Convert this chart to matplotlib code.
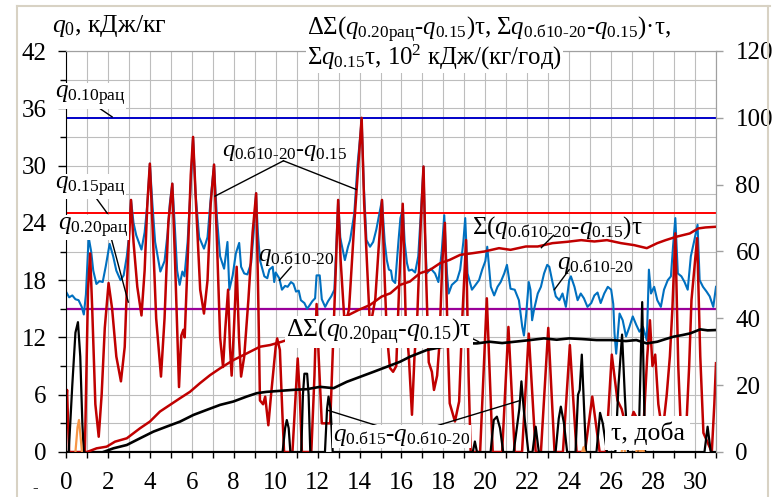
import numpy as np
import matplotlib.pyplot as plt
from matplotlib.lines import Line2D

plt.rcParams['font.family'] = ['Liberation Serif', 'DejaVu Serif']
plt.rcParams['mathtext.fontset'] = 'custom'
plt.rcParams['mathtext.rm'] = 'Liberation Serif'
plt.rcParams['mathtext.it'] = 'Liberation Serif:italic'
plt.rcParams['mathtext.bf'] = 'Liberation Serif:bold'

# rational loads, kJ/kg
q010_rac = 35.0
q015_rac = 25.0
q020_rac = 15.0

# q0.b10-20, kJ/kg
blue_t = [0.0, 0.15, 0.3, 0.45, 0.6, 0.75, 0.85, 0.95, 1.08, 1.2, 1.3, 1.45, 1.6, 1.75, 1.9, 2.08,
          2.25, 2.4, 2.6, 2.75, 2.9, 3.0, 3.1, 3.22, 3.35, 3.6, 3.75, 3.88, 4.0, 4.12, 4.25, 4.5,
          4.7, 4.85, 4.95, 5.07, 5.18, 5.3, 5.42, 5.55, 5.65, 5.8, 5.95, 6.06, 6.18, 6.35, 6.58,
          6.75, 6.9, 7.06, 7.2, 7.35, 7.54, 7.7, 7.79, 7.95, 8.1, 8.26, 8.35, 8.5, 8.65, 8.83,
          8.95, 9.06, 9.15, 9.25, 9.46, 9.6, 9.7, 9.86, 9.93, 10.0, 10.17, 10.3, 10.45, 10.57,
          10.73, 10.85, 10.97, 11.1, 11.2, 11.37, 11.5, 11.6, 11.75, 11.88, 11.95, 12.1, 12.2,
          12.36, 12.5, 12.65, 12.8, 12.9, 12.98, 13.08, 13.13, 13.3, 13.45, 13.55, 13.75, 13.9,
          14.05, 14.1, 14.2, 14.33, 14.5, 14.65, 14.8, 14.95, 15.07, 15.2, 15.3, 15.4, 15.5,
          15.57, 15.7, 15.86, 15.95, 16.07, 16.15, 16.26, 16.35, 16.5, 16.65, 16.8, 16.95, 17.05,
          17.12, 17.2, 17.4, 17.6, 17.76, 17.92, 18.04, 18.17, 18.25, 18.4, 18.65, 18.8, 18.95,
          19.04, 19.15, 19.36, 19.5, 19.7, 19.85, 20.0, 20.09, 20.26, 20.42, 20.58, 20.73, 20.9,
          21.03, 21.2, 21.4, 21.6, 21.76, 21.84, 21.95, 22.07, 22.15, 22.23, 22.32, 22.5, 22.65,
          22.8, 22.95, 23.05, 23.2, 23.36, 23.53, 23.68, 23.84, 24.0, 24.08, 24.25, 24.4, 24.55,
          24.7, 24.87, 25.05, 25.2, 25.35, 25.5, 25.67, 25.84, 26.0, 26.1, 26.16, 26.24, 26.4,
          26.55, 26.71, 26.87, 27.03, 27.2, 27.35, 27.52, 27.7, 27.8, 27.9, 28.05, 28.2, 28.37,
          28.52, 28.7, 28.85, 28.95, 29.06, 29.18, 29.35, 29.5, 29.65, 29.8, 29.95, 30.12, 30.22,
          30.38, 30.55, 30.7, 30.87, 31.0]
blue_q = [16.8, 16.2, 16.4, 16.0, 15.9, 15.2, 14.4, 16.5, 22.5, 21.0, 19.0, 17.6, 17.9, 17.8, 19.5, 21.8,
          20.5, 19.0, 18.0, 18.5, 20.5, 22.5, 26.4, 24.0, 22.7, 21.2, 23.0, 26.0, 30.2, 26.0, 22.0, 18.9,
          20.0, 23.0, 26.0, 28.1, 24.0, 19.0, 17.5, 18.9, 18.4, 22.0, 28.0, 33.0, 27.0, 22.5, 21.3,
          22.5, 26.5, 30.1, 24.5, 20.5, 19.2, 22.0, 17.0, 18.5, 20.8, 21.9, 19.4, 18.7, 18.6, 19.8,
          23.0, 27.1, 23.0, 20.1, 18.4, 18.2, 19.1, 19.4, 17.8, 18.8, 18.2, 17.0, 17.4, 17.3,
          17.8, 17.6, 16.8, 16.9, 15.9, 15.6, 15.0, 15.3, 15.8, 16.1, 18.5, 18.5, 16.0,
          15.2, 15.8, 16.3, 17.0, 22.0, 26.4, 22.5, 21.9, 20.1, 21.5, 22.2, 25.0, 30.0,
          33.5, 35.0, 28.0, 22.2, 21.5, 22.0, 23.3, 25.0, 26.4, 22.0, 20.1, 19.1, 19.0,
          18.0, 17.7, 22.2, 24.5, 25.5, 22.0, 19.8, 19.0, 19.1, 18.8, 20.5, 26.0, 29.9,
          23.0, 18.7, 19.2, 18.7, 17.8, 21.0, 24.8, 18.7, 16.6, 17.5, 18.0, 19.1, 22.0,
          24.5, 18.7, 17.0, 17.4, 18.0, 19.1, 20.0, 21.5, 17.3, 16.4, 17.3, 17.8, 18.7,
          19.6, 17.1, 17.0, 15.9, 13.1, 12.2, 14.5, 17.8, 17.0, 13.8, 14.9, 16.6, 17.3,
          18.7, 19.6, 19.4, 17.8, 16.3, 15.9, 16.6, 15.2, 18.0, 18.4, 17.3, 15.9, 16.6,
          16.1, 15.2, 15.6, 16.4, 16.7, 15.6, 16.6, 17.3, 17.0, 15.5, 12.4, 10.3, 14.5,
          13.8, 12.1, 13.1, 14.2, 13.3, 12.6, 13.1, 11.7, 19.1, 16.6, 17.3, 15.9, 15.2,
          17.0, 18.0, 18.4, 21.5, 24.5, 18.7, 18.4, 17.8, 17.0, 20.5, 22.0, 23.8, 18.0,
          17.3, 16.8, 16.3, 15.2, 17.3]

# q0.b10-20 - q0.15, kJ/kg
red_t = [0.0, 0.05, 0.1, 0.15, 0.9, 0.97, 1.05, 1.15, 1.25, 1.4, 1.56, 1.7, 1.85, 2.03, 2.2, 2.4,
         2.62, 2.8, 2.95, 3.1, 3.22, 3.4, 3.6, 3.75, 3.88, 4.0, 4.12, 4.3, 4.53, 4.7, 4.88, 5.07,
         5.2, 5.39, 5.5, 5.6, 5.66, 5.8, 5.95, 6.06, 6.2, 6.4, 6.58, 6.75, 6.9, 7.06, 7.2, 7.35,
         7.49, 7.6, 7.73, 7.82, 7.9, 8.0, 8.14, 8.25, 8.35, 8.5, 8.7, 8.9, 9.07, 9.17, 9.25, 9.4,
         9.5, 9.65, 9.78, 9.88, 10.0, 10.07, 10.2, 10.32, 10.4, 10.8, 10.95, 11.05, 11.15, 11.25,
         11.7, 11.85, 11.95, 12.05, 12.2, 12.6, 12.75, 12.88, 12.98, 13.1, 13.3, 13.5, 13.75,
         13.95, 14.1, 14.22, 14.5, 14.75, 14.93, 15.07, 15.2, 15.3, 15.45, 15.6, 15.75, 15.9,
         16.06, 16.2, 16.35, 16.5, 16.62, 16.75, 16.92, 17.05, 17.18, 17.3, 17.45, 17.55, 17.7,
         17.8, 17.95, 18.07, 18.2, 18.3, 18.55, 18.75, 18.9, 19.08, 19.2, 19.3, 19.75, 20.07,
         20.35, 20.8, 21.1, 21.4, 21.75, 22.07, 22.4, 22.65, 23.0, 23.3, 23.7, 24.03, 24.35,
         24.75, 25.1, 25.45, 25.75, 26.03, 26.3, 26.5, 26.78, 27.07, 27.26, 27.4, 27.55, 27.72,
         27.85, 27.97, 28.1, 28.25, 28.45, 28.65, 28.8, 28.92, 29.06, 29.2, 29.35, 29.55, 29.72,
         29.83, 30.0, 30.1, 30.25, 30.4, 30.8, 30.92, 31.0]
red_q = [5.0, 6.5, 3.0, 0.0, 0.0, 8.0, 17.0, 20.8, 15.0, 5.0, 1.6, 6.0, 13.0, 17.7, 15.0, 10.0,
         7.4, 11.0, 20.0, 26.4, 22.0, 17.3, 14.3, 19.0, 26.0, 30.2, 24.0, 14.0, 7.9, 14.0, 24.0, 28.1,
         20.0, 6.8, 12.2, 12.8, 12.0, 20.0, 29.0, 33.0, 26.0, 17.0, 14.5, 18.0, 26.0, 30.1, 22.0, 12.0,
         8.9, 13.0, 17.0, 11.0, 8.0, 12.5, 19.4, 12.0, 7.9, 10.0, 16.0, 23.0, 27.1, 16.0, 5.4, 5.0,
         5.8, 2.8, 6.0, 8.3, 11.0, 11.9, 10.7, 4.0, 0.0, 0.0, 6.0, 9.8, 6.0, 0.0,
         0.0, 8.0, 15.5, 10.0, 3.0, 3.0, 12.0, 20.0, 26.4, 20.0, 13.0, 15.0, 24.0,
         30.2, 35.0, 26.0, 13.0, 16.0, 22.0, 26.4, 18.0, 12.4, 8.8, 8.4, 9.0, 18.0,
         26.0, 14.0, 10.0, 3.9, 10.0, 14.0, 24.0, 29.9, 18.0, 9.4, 8.4, 6.5, 8.0,
         11.0, 20.0, 24.0, 12.0, 5.1, 3.2, 5.3, 14.0, 22.2, 8.0, 0.0, 0.0, 16.1,
         0.0, 0.0, 13.1, 0.0, 0.0, 12.4, 0.0, 0.0, 13.0, 0.0, 0.0, 11.2, 0.0,
         0.0, 5.8, 0.0, 0.0, 10.2, 5.4, 4.5, 2.0, 4.2, 3.4, 0.0, 3.0, 10.0,
         13.8, 9.0, 10.2, 5.0, 2.0, 6.0, 10.0, 15.0, 22.9, 9.0, 1.0, 1.0, 9.0,
         15.9, 20.0, 22.4, 10.0, 2.0, 0.0, 5.0, 9.3]

# q0.b15 - q0.b10-20, kJ/kg
blk_t = [0.0, 0.13, 0.3, 0.45, 0.57, 0.68, 0.78, 0.85, 10.33, 10.45, 10.53, 10.62, 10.7, 11.22, 11.3,
         11.37, 11.5, 11.57, 11.65, 12.35, 12.45, 12.52, 12.62, 12.72, 19.4, 19.5, 19.6, 20.25, 20.4,
         20.55, 20.7, 20.85, 21.35, 21.5, 21.62, 21.72, 21.85, 22.05, 22.25, 22.4, 22.55, 23.35, 23.5,
         23.6, 23.75, 23.9, 24.3, 24.42, 24.5, 24.6, 24.7, 24.8, 25.3, 25.47, 25.6, 25.8, 26.2, 26.35,
         26.52, 26.65, 26.8, 27.3, 27.48, 27.62, 30.45, 30.6, 30.75, 31.0]
blk_q = [0.0, 0.0, 7.0, 12.5, 13.6, 10.0, 3.0, 0.0, 0.0, 2.5, 3.35, 2.5, 0.0, 0.0, 6.0,
         8.2, 8.2, 6.0, 0.0, 0.0, 4.5, 5.8, 4.5, 0.0, 0.0, 1.1, 0.0, 0.0, 3.35,
         3.7, 2.5, 0.0, 0.0, 2.5, 4.5, 7.4, 4.0, 0.0, 0.0, 2.65, 0.0, 0.0, 3.5,
         4.75, 3.0, 0.0, 0.0, 6.0, 6.5, 10.2, 5.0, 0.0, 0.0, 4.1, 3.0, 0.0, 0.0, 7.0,
         12.3, 6.0, 0.0, 0.0, 15.7, 0.0, 0.0, 2.65, 0.0, 0.0]

# small orange bursts near zero
org_t = [0.45, 0.55, 0.62, 0.7, 0.76, np.nan, 24.62, 24.68, 24.74, np.nan, 26.5, 26.58, 26.66,
         np.nan, 27.2, 27.28, 27.36, np.nan, 27.44, 27.5, 27.56]
org_q = [0.0, 2.6, 3.35, 1.5, 0.0, np.nan, 0.0, 0.5, 0.0, np.nan, 0.0, 0.9, 0.0,
         np.nan, 0.0, 0.9, 0.0, np.nan, 0.0, 0.9, 0.0]

# cumulative sums, 10^2 kJ/(kg/h)
cum_red_t = [1.0, 1.46, 1.94, 2.34, 2.9, 3.53, 4.0, 4.48, 4.96, 5.44, 5.91, 6.39, 6.87, 7.34, 7.98,
             8.62, 9.25, 9.73, 10.29, 11.0, 12.0, 13.0, 13.95, 14.5, 15.05, 15.47, 15.93, 16.4,
             16.88, 17.36, 17.84, 18.3, 18.8, 19.4, 19.95, 20.65, 21.2, 21.93, 22.5, 23.2, 23.9,
             24.57, 25.2, 25.8, 26.47, 27.1, 27.7, 28.2, 28.6, 29.1, 29.75, 30.15, 30.5, 31.0]
cum_red = [0.0, 1.1, 1.6, 3.1, 4.1, 7.1, 9.1, 12.1, 14.1, 16.1, 18.0, 20.6, 23.0, 25.0, 27.5,
           29.5, 31.5, 32.0, 33.0, 34.5, 37.0, 39.5, 42.5, 44.0, 46.5, 47.5, 50.0, 51.0,
           53.5, 54.5, 56.5, 57.5, 59.0, 59.5, 60.0, 61.0, 60.5, 61.5, 61.5, 62.5, 62.9,
           63.4, 63.0, 63.4, 62.5, 61.9, 61.0, 62.5, 63.4, 64.4, 65.4, 66.9, 67.2, 67.4]

cum_blk_t = [1.78, 2.26, 2.9, 3.53, 4.17, 4.8, 5.44, 6.08, 6.71, 7.35, 7.98, 8.62, 9.1, 9.57, 10.2,
             10.85, 11.48, 12.12, 12.76, 13.39, 14.03, 14.67, 15.3, 15.93, 16.4, 17.2, 17.99, 18.6,
             19.1, 19.6, 20.2, 20.8, 21.4, 22.0, 22.8, 23.4, 24.0, 24.6, 25.3, 26.0, 26.7, 27.2,
             27.7, 28.2, 28.6, 28.97, 29.4, 29.77, 30.25, 30.6, 31.0]
cum_blk = [0.0, 1.1, 2.1, 4.1, 6.1, 7.6, 9.1, 11.1, 12.6, 14.1, 15.1, 16.6, 17.6, 18.0, 18.3,
           18.6, 18.8, 19.5, 19.1, 21.0, 22.5, 24.0, 25.5, 27.0, 28.5, 30.5, 31.5, 32.0,
           32.5, 32.5, 33.0, 32.6, 33.0, 33.4, 34.0, 33.6, 34.0, 33.8, 33.5, 33.5, 33.2, 33.5,
           32.5, 33.0, 33.8, 34.5, 35.0, 35.5, 36.7, 36.4, 36.5]

fig = plt.figure(figsize=(7.78, 4.97), dpi=100)
ax = fig.add_axes([66 / 778, 45 / 497, 650 / 778, 401 / 497])
ax2 = ax.twinx()

ax.set_xlim(0, 31)
ax.set_ylim(0, 42)
ax2.set_ylim(0, 120)

ax.set_xticks(range(0, 32, 2))
ax.set_xticks(range(0, 32), minor=True)
ax.set_yticks(range(0, 43, 6))
ax.set_yticks(range(0, 43, 3), minor=True)
ax2.set_yticks(range(0, 121, 20))

ax.grid(True, which='both', color='#bdbdbd', lw=0.8)
ax.set_axisbelow(True)

ax.tick_params(axis='y', which='major', length=6, width=1, pad=8, labelsize=18)
ax.tick_params(axis='y', which='minor', length=4, width=1)
ax.tick_params(axis='x', which='both', length=4.5, width=1, pad=10, labelsize=18)
ax2.tick_params(axis='y', length=5, width=1, pad=9, labelsize=18, color='#a0a0a0')

for s in ['top', 'right']:
    ax.spines[s].set_color('#a0a0a0')
    ax2.spines[s].set_color('#a0a0a0')
ax2.spines['left'].set_visible(False)
ax2.spines['bottom'].set_visible(False)

# reference levels
ax.axhline(q010_rac, color='#0000c8', lw=1.4, zorder=1.5)
ax.axhline(q015_rac, color='#ff0000', lw=1.4, zorder=1.5)
ax.axhline(q020_rac, color='#990099', lw=1.6, zorder=1.5)

ax.plot(blue_t, blue_q, color='#0070c0', lw=1.5, zorder=2)
ax.plot(red_t, red_q, color='#c00000', lw=1.8, zorder=2.1)
ax.plot(blk_t, blk_q, color='black', lw=1.6, zorder=2.2)
ax.plot(org_t, org_q, color='#f79646', lw=1.6, zorder=2.2)

ax2.plot(cum_red_t, cum_red, color='#c00000', lw=1.8)
ax2.plot(cum_blk_t, cum_blk, color='black', lw=1.9)

fs = 18
box = dict(facecolor='white', edgecolor='none', pad=0.5)
tx = ax.transData


def label(x, y, s, **kw):
    ax2.text(x, y, s, transform=tx, fontsize=kw.pop('size', fs), ha='left', va='center', **kw)


def leader(x0, y0, x1, y1):
    ax2.plot([x0, x1], [y0, y1], transform=tx, color='black', lw=1.0, clip_on=False)


label(-0.67, 44.6, r'$q_0$, кДж/кг', size=18.5)
label(11.5, 44.2, r'ΔΣ($q_{\text{0.20рац}}$-$q_{\text{0.15}}$)τ, Σ$q_{\text{0.б10-20}}$-$q_{\text{0.15}}$)·τ,', size=17.8)
label(11.5, 41.3, r'Σ$q_{\text{0.15}}$τ, 10$^2$ кДж/(кг/год)', size=17.8, bbox=box)

label(-0.52, 37.3, r'$q_{\text{0.10рац}}$', bbox=box)
leader(1.53, 36.1, 2.2, 35.1)
label(-0.52, 27.8, r'$q_{\text{0.15рац}}$', bbox=box)
leader(1.47, 26.5, 1.97, 25.0)
label(-0.38, 23.5, r'$q_{\text{0.20рац}}$', bbox=box)
leader(2.18, 22.2, 2.97, 15.7)

label(7.45, 31.4, r'$q_{\text{0.б10-20}}$-$q_{\text{0.15}}$', size=17.5)
leader(10.37, 30.5, 7.11, 26.8)
leader(10.37, 30.5, 13.84, 27.5)

label(19.38, 23.5, r'Σ($q_{\text{0.б10-20}}$-$q_{\text{0.15}}$)τ')
leader(23.25, 22.7, 22.67, 21.4)

label(9.16, 20.4, r'$q_{\text{0.б10-20}}$')
leader(10.74, 19.4, 10.18, 18.0)
label(23.44, 19.6, r'$q_{\text{0.б10-20}}$')
leader(24.0, 19.1, 23.29, 17.0)

label(10.5, 12.6, r'ΔΣ($q_{\text{0.20рац}}$-$q_{\text{0.15}}$)τ', size=18.5, bbox=box)
leader(19.05, 12.25, 19.68, 11.55)

label(12.74, 1.6, r'$q_{\text{0.б15}}$-$q_{\text{0.б10-20}}$', bbox=box)
leader(12.44, 4.4, 15.94, 2.0)
leader(17.76, 2.8, 21.67, 5.4)

label(25.97, 2.0, 'τ, доба', size=18.5, bbox=dict(facecolor='white', edgecolor='none', pad=4))

# outer frame
frame = '#d8d2c4'
fig.add_artist(Line2D([17 / 778, 770 / 778], [1 - 6 / 497, 1 - 6 / 497], color=frame, lw=1.5))
fig.add_artist(Line2D([17 / 778, 17 / 778], [0, 1 - 6 / 497], color=frame, lw=1.5))
fig.add_artist(Line2D([768 / 778, 768 / 778], [0, 1 - 6 / 497], color=frame, lw=1.5))
fig.text(35 / 778, 1 - 488 / 497, '-', fontsize=12, ha='center', va='center')

fig.savefig('out.png', dpi=100)
